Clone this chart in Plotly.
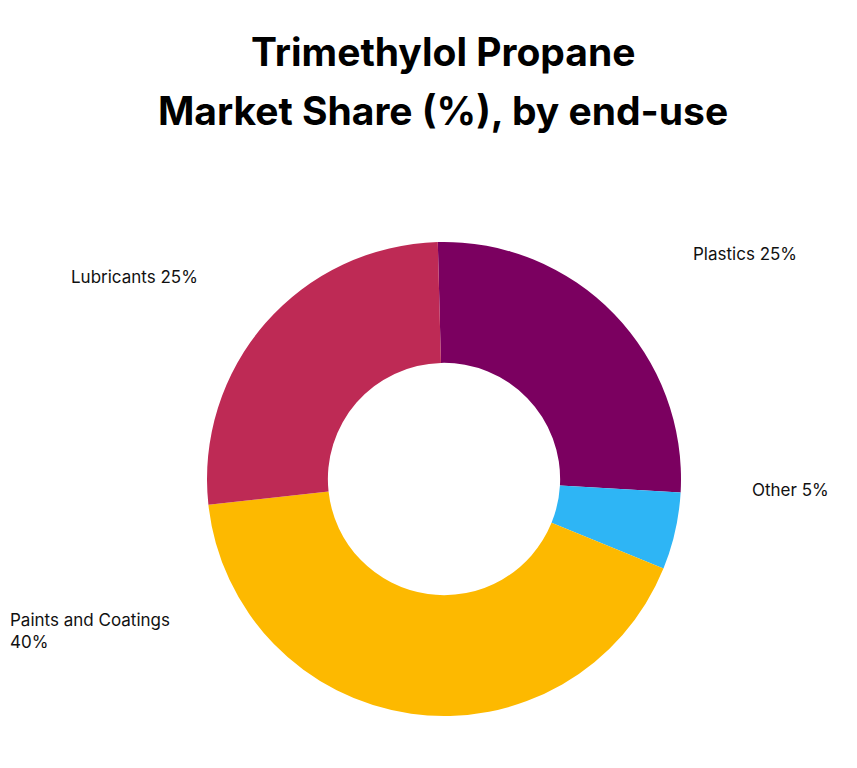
import plotly.graph_objects as go

segments = ["Plastics", "Other", "Paints and Coatings", "Lubricants"]
shares = [25, 5, 40, 25]
colors = ["#7B0060", "#2EB5F5", "#FDB900", "#BE2A55"]
label_text = ["Plastics 25%", "Other 5%", "Paints and Coatings<br>40%", "Lubricants 25%"]
title_lines = ["Trimethylol Propane", "Market Share (%), by end-use"]
# label anchor points (paper coords)
label_pos = [(0.797, 0.680, "left"), (0.866, 0.373, "left"),
             (0.000, 0.189, "left"), (0.071, 0.650, "left")]

W, H = 857, 768
cx, cy, r = 436, 471, 237

fig = go.Figure(go.Pie(
    labels=segments, values=shares, hole=0.49, sort=False,
    direction="clockwise", rotation=-1.5,
    marker=dict(colors=colors, line=dict(width=0)),
    textinfo="none", hoverinfo="label+percent", showlegend=False,
    domain=dict(x=[(cx - r) / W, (cx + r) / W], y=[(H - cy - r) / H, (H - cy + r) / H]),
))

for txt, (x, y, anc) in zip(label_text, label_pos):
    fig.add_annotation(x=x, y=y, xref="paper", yref="paper", text=txt, showarrow=False,
                       xanchor=anc, yanchor="middle", align="left",
                       font=dict(size=17, color="#111111", family="Inter"))

for i, line in enumerate(title_lines):
    fig.add_annotation(x=0.508, y=1 - (44 + 58 * i) / H, xref="paper", yref="paper",
                       text="<b>" + line + "</b>", showarrow=False,
                       xanchor="center", yanchor="middle",
                       font=dict(size=39, color="black", family="Inter"))

fig.update_layout(
    width=W, height=H, margin=dict(l=0, r=0, t=0, b=0),
    paper_bgcolor="white", plot_bgcolor="white",
)

fig.write_html("out.html")
